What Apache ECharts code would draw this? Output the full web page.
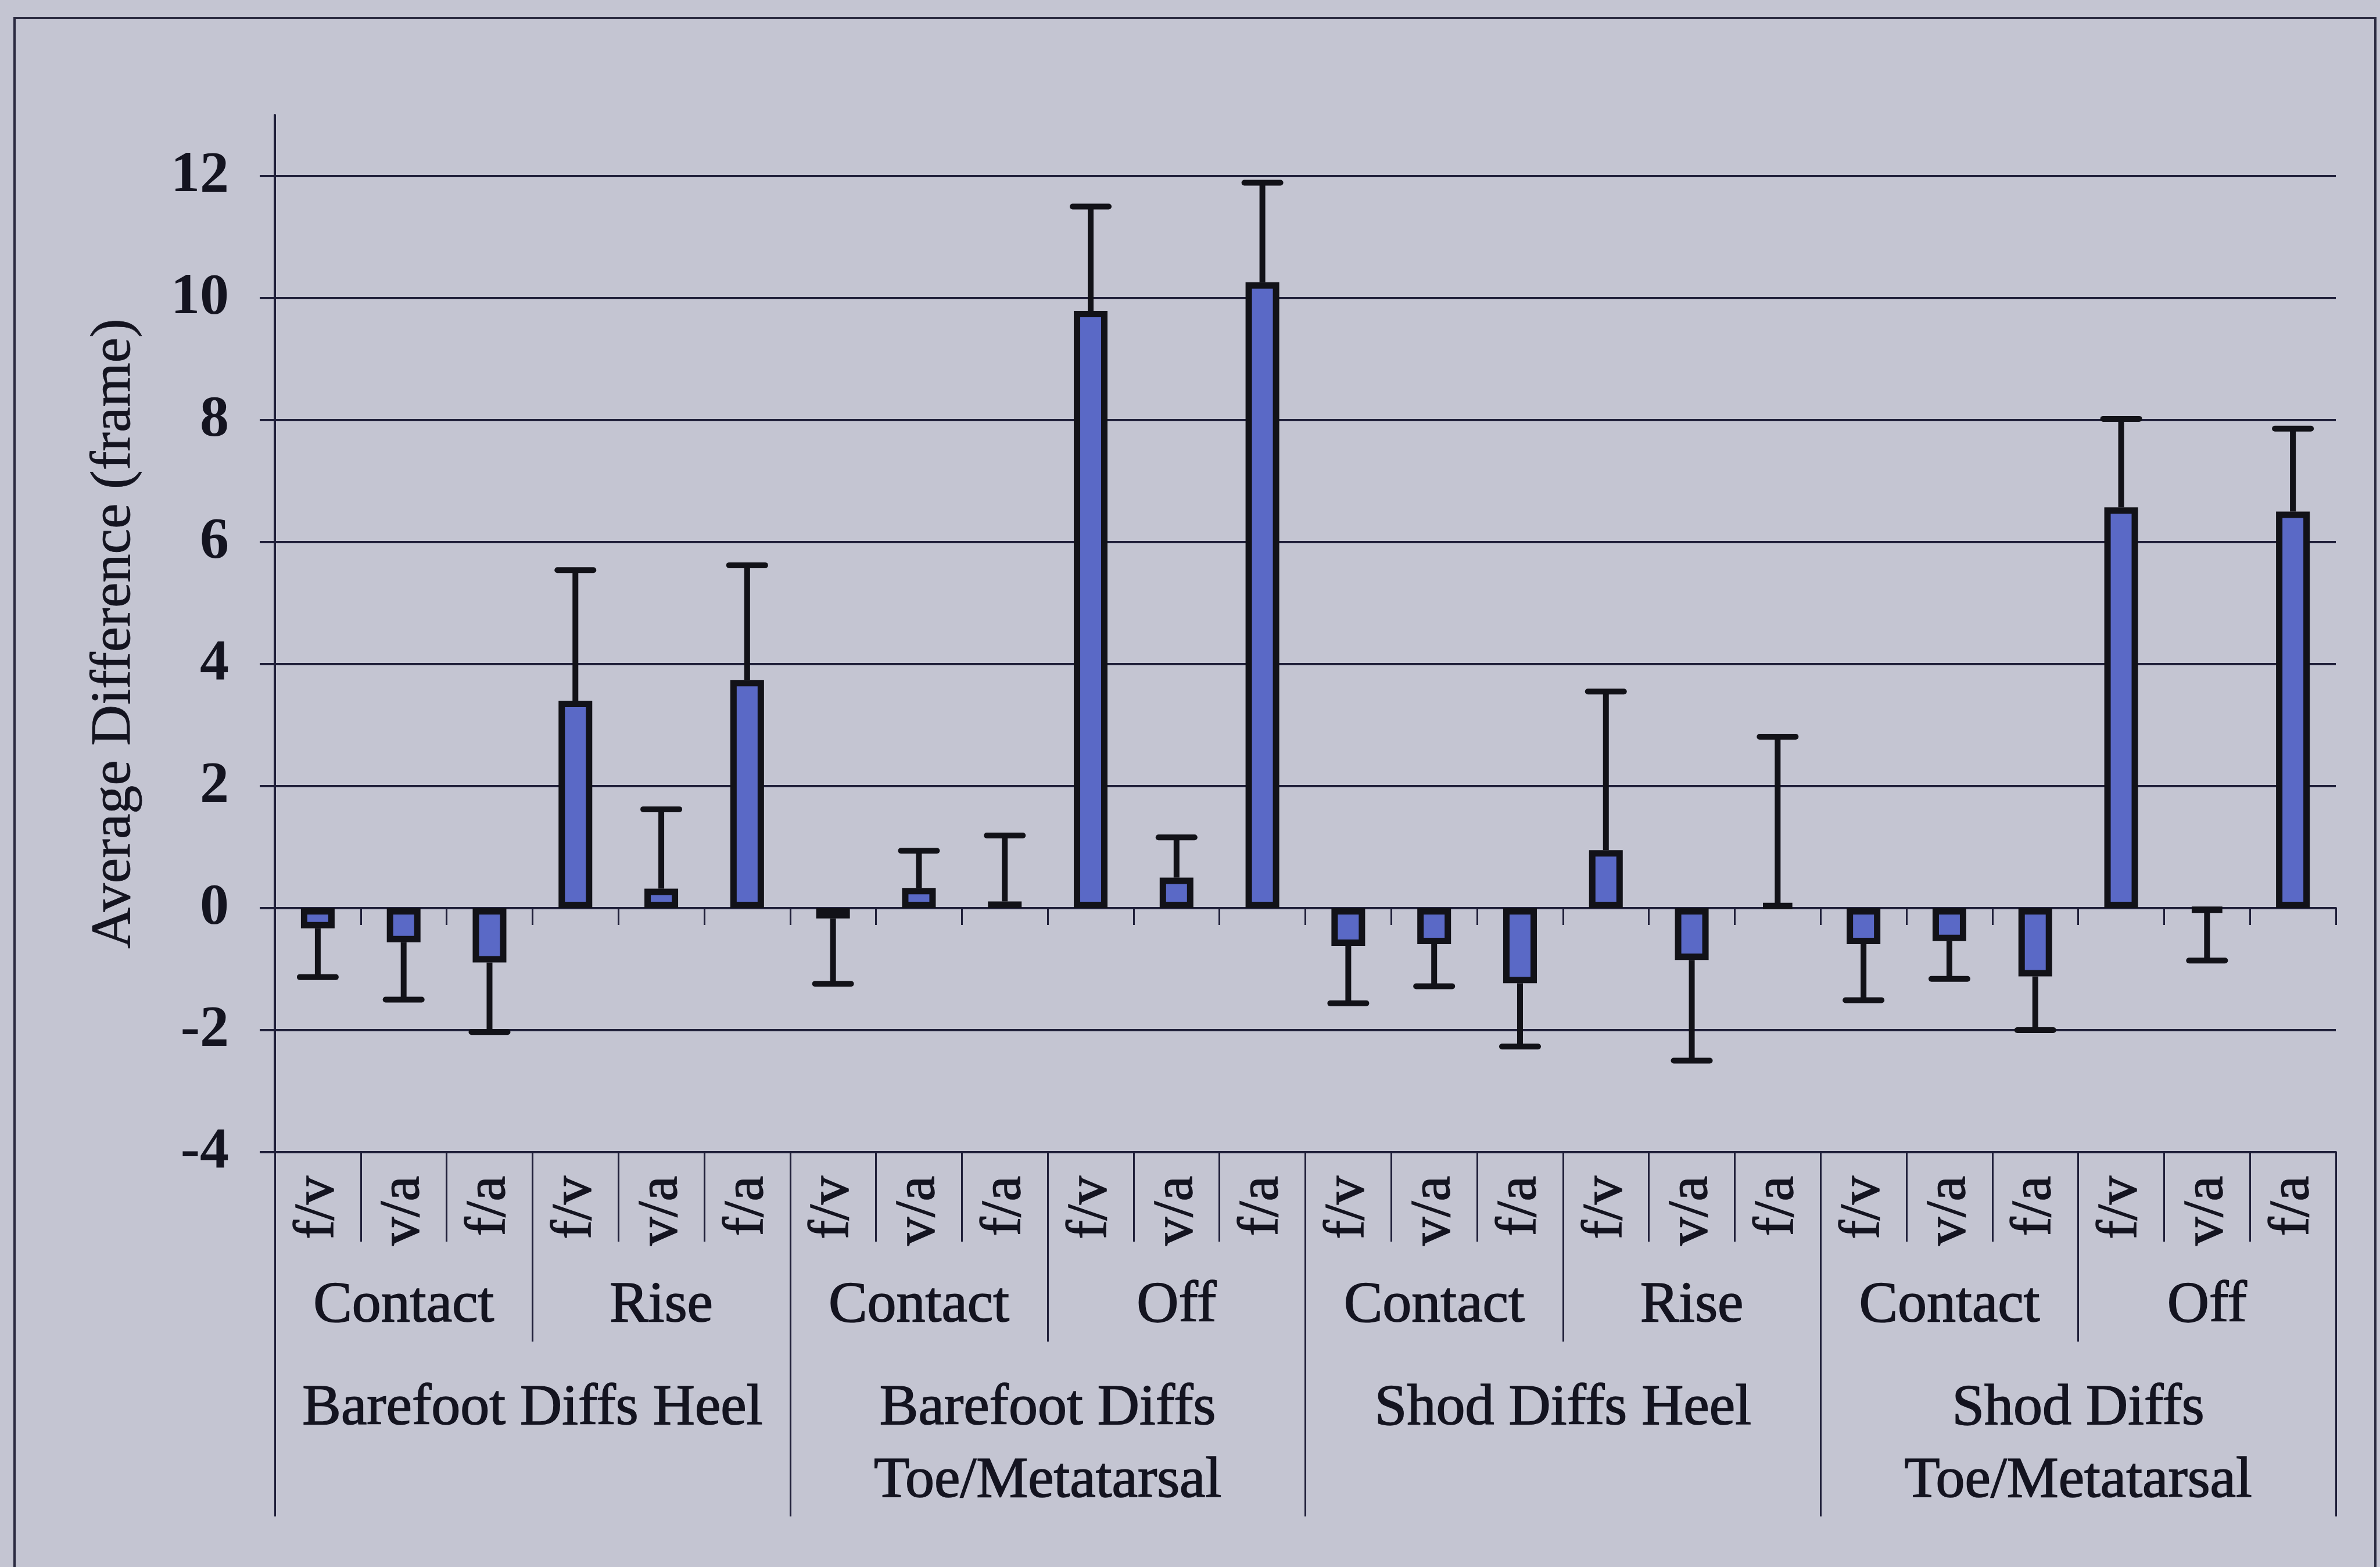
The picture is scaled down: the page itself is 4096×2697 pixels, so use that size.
<!DOCTYPE html>
<html>
<head>
<meta charset="utf-8">
<script src="https://cdn.jsdelivr.net/npm/echarts@6/dist/echarts.min.js"></script>
<style>
  html, body { margin: 0; padding: 0; background: #c4c5d2; }
  #chart { width: 4096px; height: 2697px; }
</style>
</head>
<body>
<div id="chart"></div>
<script>
// Comparison of each method pair (f/v, v/a, f/a) per event and condition
const subLabels = [
  'f/v', 'v/a', 'f/a', 'f/v', 'v/a', 'f/a',
  'f/v', 'v/a', 'f/a', 'f/v', 'v/a', 'f/a',
  'f/v', 'v/a', 'f/a', 'f/v', 'v/a', 'f/a',
  'f/v', 'v/a', 'f/a', 'f/v', 'v/a', 'f/a'
];
const phaseLabels = ['Contact', 'Rise', 'Contact', 'Off', 'Contact', 'Rise', 'Contact', 'Off'];
const groupLabels = [
  'Barefoot Diffs Heel',
  'Barefoot Diffs\nToe/Metatarsal',
  'Shod Diffs Heel',
  'Shod Diffs\nToe/Metatarsal'
];

// Mean difference (frames) per bar
const means = [
  -0.33, -0.56, -0.89, 3.40, 0.32, 3.74,
  -0.17, 0.33, 0.11, 9.79, 0.50, 10.26,
  -0.62, -0.59, -1.23, 0.95, -0.85, 0.07,
  -0.59, -0.54, -1.12, 6.57, -0.05, 6.50
];
// Standard deviation, drawn on the outward side of each bar
const sds = [
  0.80, 0.94, 1.14, 2.14, 1.30, 1.88,
  1.07, 0.61, 1.08, 1.71, 0.66, 1.63,
  0.94, 0.69, 1.04, 2.60, 1.65, 2.74,
  0.92, 0.62, 0.88, 1.45, 0.81, 1.36
];

const yTicks = [-4, -2, 0, 2, 4, 6, 8, 10, 12];
const yMin = -4, yMax = 13, yStep = 2;

const FONT = "'Liberation Serif', 'Times New Roman', serif";
const INK = '#141420';
const LINE = '#20203a';
const FS = 100;
// slightly heavier glyphs for the category and axis titles
const heavy = { textBorderColor: INK, textBorderWidth: 1.6 };

const errData = means.map((m, i) => [i, m, m + (m >= 0 ? 1 : -1) * sds[i]]);

const chart = echarts.init(document.getElementById('chart'), null, { renderer: 'canvas' });

chart.setOption({
  backgroundColor: '#c4c5d2',
  animation: false,
  textStyle: { fontFamily: FONT, color: INK },
  graphic: [{
    type: 'rect',
    shape: { x: 25, y: 31, width: 4063, height: 2720 },
    style: { fill: 'none', stroke: '#2a2a40', lineWidth: 4 },
    silent: true
  }],
  grid: {
    left: 473, right: 76, top: 198, bottom: 714,
    containLabel: false,
    outerBoundsMode: 'none'
  },
  xAxis: [
    { // data axis, drawn along zero
      type: 'category', data: subLabels, gridIndex: 0,
      axisLine: { show: true, onZero: true, lineStyle: { color: LINE, width: 4 } },
      axisTick: { show: true, interval: 0, length: 29, lineStyle: { color: LINE, width: 3 } },
      axisLabel: { show: false },
      splitLine: { show: false }
    },
    { // method pair row
      type: 'category', data: subLabels, gridIndex: 0, position: 'bottom',
      axisLine: { show: true, onZero: false, lineStyle: { color: LINE, width: 4 } },
      axisTick: { show: true, interval: 0, length: 154, lineStyle: { color: LINE, width: 3 } },
      axisLabel: Object.assign({
        interval: 0, rotate: 90, margin: 41,
        fontSize: FS - 2, fontFamily: FONT, color: INK
      }, heavy),
      splitLine: { show: false }
    },
    { // event row
      type: 'category', data: phaseLabels, gridIndex: 0, position: 'bottom',
      axisLine: { show: false, onZero: false },
      axisTick: { show: true, interval: 0, length: 326, lineStyle: { color: LINE, width: 3 } },
      axisLabel: Object.assign({
        interval: 0, margin: 215, lineHeight: 100,
        fontSize: FS, fontFamily: FONT, color: INK
      }, heavy),
      splitLine: { show: false }
    },
    { // condition row
      type: 'category', data: groupLabels, gridIndex: 0, position: 'bottom',
      axisLine: { show: false, onZero: false },
      axisTick: { show: true, interval: 0, length: 627, lineStyle: { color: LINE, width: 3 } },
      axisLabel: Object.assign({
        interval: 0, margin: 379, lineHeight: 125,
        fontSize: FS, fontFamily: FONT, color: INK
      }, heavy),
      splitLine: { show: false }
    }
  ],
  yAxis: {
    type: 'value', min: yMin, max: yMax, interval: yStep,
    name: 'Average Difference (frame)',
    nameLocation: 'middle', nameGap: 227,
    nameTextStyle: { fontSize: FS - 2, fontFamily: FONT, color: INK, textBorderColor: INK, textBorderWidth: 0.8 },
    axisLine: { show: true, lineStyle: { color: LINE, width: 4 } },
    axisTick: { show: true, length: 26, customValues: yTicks, lineStyle: { color: LINE, width: 4 } },
    axisLabel: {
      customValues: yTicks, margin: 79,
      fontSize: FS, fontWeight: 'bold', fontFamily: FONT, color: INK
    },
    splitLine: { show: true, lineStyle: { color: LINE, width: 4 } }
  },
  series: [
    {
      type: 'bar', xAxisIndex: 0, yAxisIndex: 0,
      data: means,
      barWidth: 58,
      itemStyle: { color: '#5a69c6', borderColor: '#121218', borderWidth: 11 },
      z: 3
    },
    {
      type: 'custom', xAxisIndex: 0, yAxisIndex: 0,
      data: errData,
      z: 4,
      renderItem: function (params, api) {
        const base = api.coord([api.value(0), api.value(1)]);
        const tip = api.coord([api.value(0), api.value(2)]);
        const half = 31;
        return {
          type: 'group',
          children: [
            { type: 'line', shape: { x1: base[0], y1: base[1], x2: tip[0], y2: tip[1] },
              style: { stroke: '#121218', lineWidth: 10 } },
            { type: 'line', shape: { x1: tip[0] - half, y1: tip[1], x2: tip[0] + half, y2: tip[1] },
              style: { stroke: '#121218', lineWidth: 10, lineCap: 'round' } }
          ]
        };
      }
    }
  ]
});
</script>
</body>
</html>
